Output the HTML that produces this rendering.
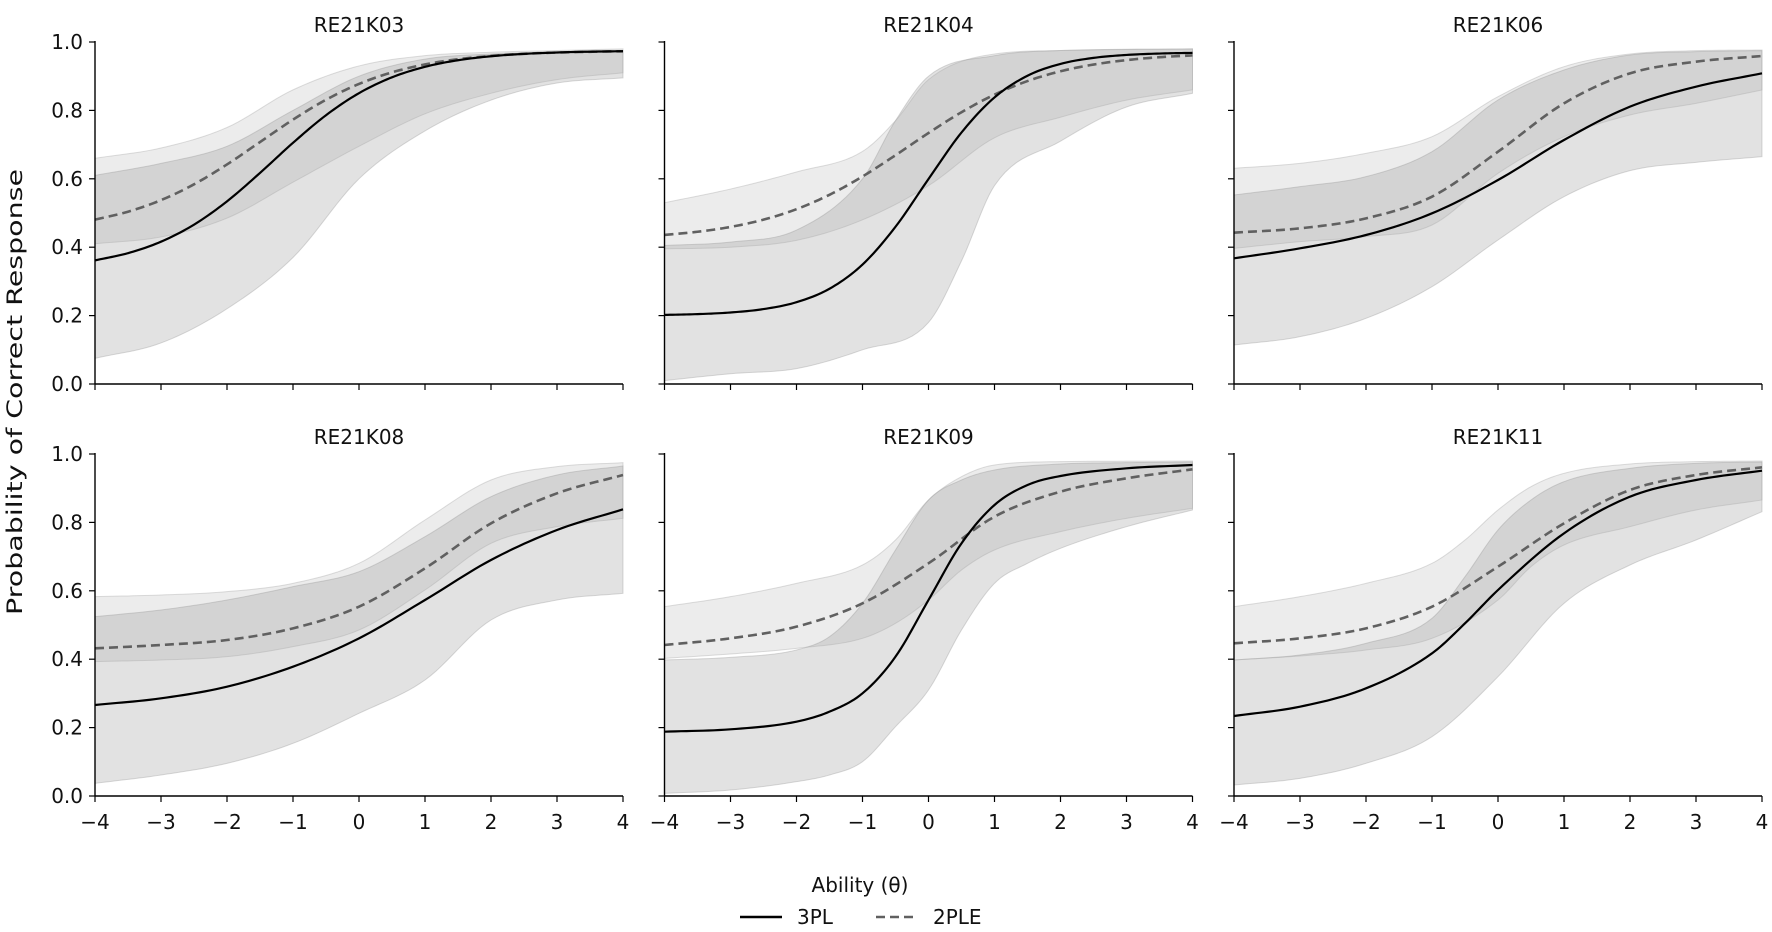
<!DOCTYPE html>
<html><head><meta charset="utf-8"><style>
html,body{margin:0;padding:0;background:#fff;}
svg{display:block;font-family:"DejaVu Sans","Liberation Sans",sans-serif;}
</style></head><body>
<svg id="s" width="1772" height="932" viewBox="0 0 1772 932" xmlns="http://www.w3.org/2000/svg">
<rect width="1772" height="932" fill="#fff"/>
<g id="g"></g>
<text x="16" y="392" transform="rotate(-90 16 392)" text-anchor="middle" dominant-baseline="middle" font-size="21" textLength="446" lengthAdjust="spacingAndGlyphs" fill="#111">Probability of Correct Response</text>
<text x="860" y="892" text-anchor="middle" font-size="20" fill="#111">Ability (θ)</text>
<line x1="740" y1="917" x2="782" y2="917" stroke="#000" stroke-width="2.4"/>
<text x="797" y="924" font-size="20" fill="#111">3PL</text>
<line x1="876" y1="917" x2="918" y2="917" stroke="#606060" stroke-width="2.6" stroke-dasharray="9 5"/>
<text x="933" y="924" font-size="20" fill="#111">2PLE</text>
</svg>
<script>
const NS="http://www.w3.org/2000/svg";
const g=document.getElementById('g');
function el(t,a,txt){const e=document.createElementNS(NS,t);for(const k in a)e.setAttribute(k,a[k]);if(txt!==undefined)e.textContent=txt;g.appendChild(e);return e;}
function logi(c,d,a,b){const r=[];for(let t=-4;t<=4.001;t+=0.5)r.push([t,c+(d-c)/(1+Math.exp(-a*(t-b)))]);return r;}
function arr(vals){return vals.map((v,i)=>[i-4,v]);}
function mono(pts){const n=pts.length,xs=pts.map(p=>p[0]),ys=pts.map(p=>p[1]);const d=[],m=[];
 for(let i=0;i<n-1;i++)d.push((ys[i+1]-ys[i])/(xs[i+1]-xs[i]));
 m[0]=d[0];m[n-1]=d[n-2];for(let i=1;i<n-1;i++){m[i]=(d[i-1]*d[i]<=0)?0:(d[i-1]+d[i])/2;}
 for(let i=0;i<n-1;i++){if(d[i]==0){m[i]=m[i+1]=0;continue;}const a=m[i]/d[i],b=m[i+1]/d[i],s=a*a+b*b;if(s>9){const t=3/Math.sqrt(s);m[i]=t*a*d[i];m[i+1]=t*b*d[i];}}
 const out=[];for(let i=0;i<n-1;i++){const h=xs[i+1]-xs[i];const N=12;for(let k=0;k<N;k++){const t=k/N,t2=t*t,t3=t2*t;
  const y=(2*t3-3*t2+1)*ys[i]+(t3-2*t2+t)*h*m[i]+(-2*t3+3*t2)*ys[i+1]+(t3-t2)*h*m[i+1];out.push([xs[i]+t*h,y]);}}
 out.push([xs[n-1],ys[n-1]]);return out;}
const panels=[
 {x0:95,y0:384,t:'RE21K03',lab:true,xl:false,mode:'p',
  s:logi(.33,.975,1.1,-1.3),d:logi(.44,.975,1.0,-1.5),
  L3:arr([.075,.12,.22,.37,.6,.74,.83,.88,.895]),U3:arr([.61,.645,.695,.80,.9,.95,.965,.97,.975]),
  L2:arr([.41,.43,.485,.59,.695,.79,.85,.89,.91]),U2:arr([.66,.69,.75,.86,.93,.96,.97,.975,.98])},
 {x0:664.5,y0:384,t:'RE21K04',lab:false,xl:false,mode:'p',
  s:logi(.2,.97,1.5,-0.05),d:logi(.42,.97,.95,-.3),
  U2:[[-4,.53],[-3,.57],[-2,.62],[-1,.68],[-.5,.77],[0,.89],[1,.965],[2,.975],[4,.98]],
  L2:arr([.395,.40,.42,.48,.58,.72,.78,.83,.86]),
  U3:[[-4,.405],[-3,.415],[-2,.45],[-1,.6],[-.5,.77],[0,.9],[1,.96],[2,.975],[4,.98]],
  L3:[[-4,.01],[-3,.03],[-2,.045],[-1,.1],[0,.18],[.5,.36],[1,.58],[2,.71],[3,.81],[4,.85]]},
 {x0:1234,y0:384,t:'RE21K06',lab:false,xl:false,mode:'z',oy:40,
  s:arr([655,625,585,520,420,300,200,140,100]),d:arr([578,565,535,470,335,190,100,65,48]),
  L3:arr([915,890,835,740,600,470,392,367,350]),U2:arr([385,370,340,290,170,80,42,32,30]),
  U3:arr([465,440,410,335,180,90,45,35,32]),L2:arr([625,605,590,555,400,290,225,190,150])},
 {x0:95,y0:796,t:'RE21K08',lab:true,xl:true,mode:'z',oy:450,
  s:arr([765,745,710,650,565,450,330,240,178]),d:arr([595,585,570,535,470,355,220,130,75]),
  L3:arr([1000,975,940,880,790,690,510,450,430]),U3:arr([500,480,450,410,365,260,140,75,48]),
  L2:arr([635,630,620,590,540,420,280,230,205]),U2:arr([440,435,425,400,340,210,90,50,38])},
 {x0:664.5,y0:796,t:'RE21K09',lab:false,xl:true,mode:'z',oy:450,
  s:[[-4,845],[-3,838],[-2,815],[-1.5,785],[-1,730],[-.5,620],[0,450],[.5,280],[1,165],[1.5,105],[2,78],[3,55],[4,45]],
  d:arr([585,565,530,460,340,200,125,85,58]),
  L3:[[-4,1030],[-3,1020],[-2,995],[-1.5,975],[-1,935],[-.5,830],[0,720],[.5,540],[1,400],[1.5,340],[2,295],[3,230],[4,180]],
  U3:[[-4,630],[-3,622],[-2,600],[-1.5,560],[-1,460],[-.5,300],[0,150],[.5,90],[1,60],[2,42],[3,38],[4,36]],
  L2:[[-4,625],[-3,612],[-2,595],[-1,565],[-.5,520],[0,450],[.5,360],[1,300],[2,245],[3,205],[4,175]],
  U2:[[-4,470],[-3,440],[-2,400],[-1,345],[-.5,270],[0,150],[.5,80],[1,45],[2,35],[4,33]]},
 {x0:1234,y0:796,t:'RE21K11',lab:false,xl:true,mode:'z',oy:450,
  s:[[-4,798],[-3,770],[-2,715],[-1,610],[-.5,520],[0,420],[1,250],[2,140],[3,90],[4,62]],
  d:arr([580,565,535,470,350,220,120,75,52]),
  L3:arr([1005,985,940,860,680,460,345,270,185]),
  U3:[[-4,630],[-3,615],[-2,580],[-1,505],[-.5,380],[0,240],[.5,150],[1,95],[2,55],[3,40],[4,36]],
  L2:[[-4,630],[-3,618],[-2,600],[-1,565],[0,450],[.5,350],[1,285],[2,230],[3,180],[4,150]],
  U2:[[-4,470],[-3,440],[-2,400],[-1,340],[-.5,270],[0,180],[.5,110],[1,70],[2,42],[3,35],[4,33]]}
];
const U=66,H=342;
panels.forEach(P=>{
 const X=t=>P.x0+(t+4)*U;
 const Y=v=>P.mode==='p'?P.y0-v*H:P.oy+v/3;
 const pts=a=>mono(a).map(p=>[X(p[0]).toFixed(2),Y(p[1]).toFixed(2)]);
 const line=a=>'M'+pts(a).map(p=>p.join(',')).join('L');
 const band=(lo,hi)=>{const a=pts(lo),b=pts(hi).reverse();return 'M'+a.concat(b).map(p=>p.join(',')).join('L')+'Z';};
 el('path',{d:band(P.L3,P.U3),fill:'rgb(128,128,128)','fill-opacity':0.23,stroke:'rgb(160,160,160)','stroke-opacity':0.4,'stroke-width':1});
 el('path',{d:band(P.L2,P.U2),fill:'rgb(128,128,128)','fill-opacity':0.15,stroke:'rgb(170,170,170)','stroke-opacity':0.4,'stroke-width':1});
 el('path',{d:line(P.d),fill:'none',stroke:'#606060','stroke-width':2.6,'stroke-dasharray':'9 5'});
 el('path',{d:line(P.s),fill:'none',stroke:'#000','stroke-width':2.2});
 el('line',{x1:P.x0,y1:P.y0-H-1,x2:P.x0,y2:P.y0,stroke:'#000','stroke-width':1.4});
 el('line',{x1:P.x0,y1:P.y0,x2:P.x0+8*U,y2:P.y0,stroke:'#000','stroke-width':1.4});
 for(let i=0;i<=5;i++){const y=P.y0-i*0.2*H;el('line',{x1:P.x0-6,y1:y,x2:P.x0,y2:y,stroke:'#000','stroke-width':1.2});
  if(P.lab)el('text',{x:P.x0-12,y:y+7,'text-anchor':'end','font-size':20,fill:'#111'},(i*0.2).toFixed(1));}
 for(let t=-4;t<=4;t++){const x=X(t);el('line',{x1:x,y1:P.y0,x2:x,y2:P.y0+6,stroke:'#000','stroke-width':1.2});
  if(P.xl)el('text',{x:x,y:P.y0+33,'text-anchor':'middle','font-size':20,fill:'#111'},t<0?'\u2212'+(-t):String(t));}
 el('text',{x:P.x0+4*U,y:P.y0-H-10,'text-anchor':'middle','font-size':20,fill:'#111'},P.t);
});
</script>
</body></html>
